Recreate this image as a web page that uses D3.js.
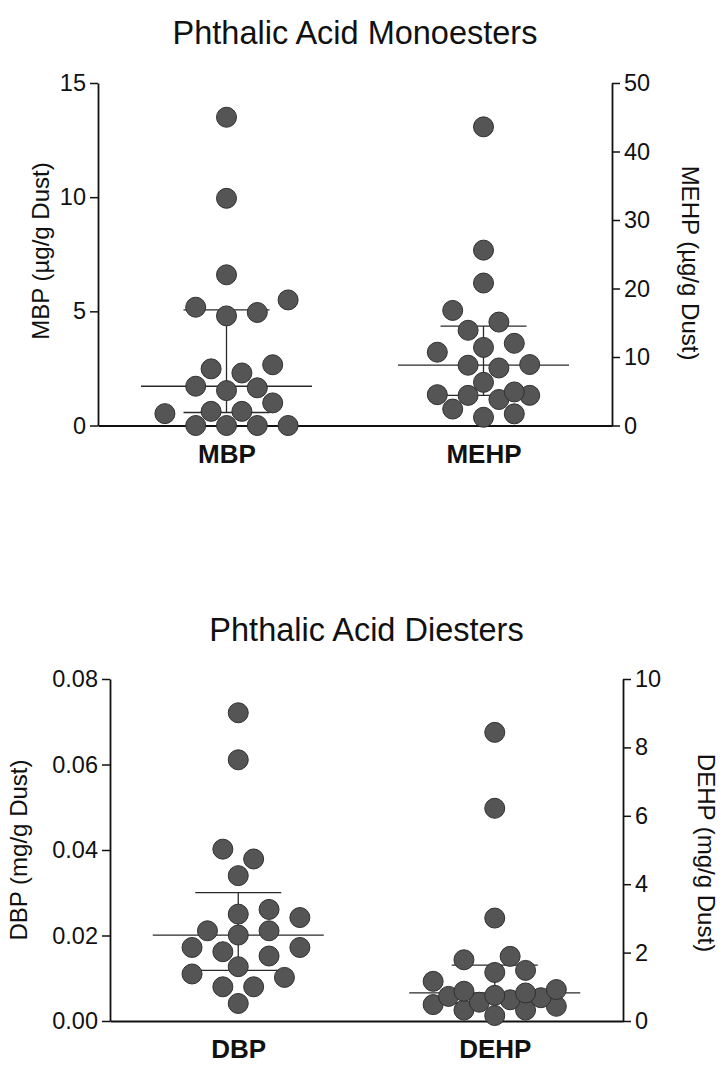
<!DOCTYPE html>
<html>
<head>
<meta charset="utf-8">
<script src="https://cdn.jsdelivr.net/npm/d3@7"></script>
<style>
  html, body { margin: 0; padding: 0; background: #fff; }
  svg { display: block; }
  text { font-family: "Liberation Sans", Arial, Helvetica, sans-serif; fill: #111; }
</style>
</head>
<body>
<svg id="chart" width="724" height="1069"></svg>
<script>
// Monoester concentrations (µg/g dust)
const monoCategories = ["MBP", "MEHP"];
const mbpValues  = [0, 0, 0, 0, 0.52, 0.62, 0.62, 0.99, 1.53, 1.65, 1.72, 2.30, 2.48, 2.66, 4.80, 4.95, 5.18, 5.50, 6.60, 9.95, 13.5];
const mehpValues = [1.2, 1.7, 2.4, 3.8, 4.4, 4.4, 4.5, 4.9, 6.3, 8.4, 8.8, 8.9, 10.7, 11.4, 12.0, 13.9, 15.1, 16.8, 20.8, 25.6, 43.6];
const mbpTicks  = [0, 5, 10, 15];
const mehpTicks = [0, 10, 20, 30, 40, 50];

// Diester concentrations (mg/g dust)
const diCategories = ["DBP", "DEHP"];
const dbpValues  = [0.0041, 0.0080, 0.0080, 0.0102, 0.0110, 0.0127, 0.0152, 0.0162, 0.0172, 0.0172, 0.0201, 0.0211, 0.0211, 0.0242, 0.0250, 0.0261, 0.0340, 0.0379, 0.0402, 0.0611, 0.0721];
const dehpValues = [0.16, 0.32, 0.32, 0.43, 0.48, 0.55, 0.62, 0.68, 0.72, 0.75, 0.82, 0.87, 0.92, 1.16, 1.42, 1.48, 1.79, 1.89, 3.01, 6.22, 8.44];
const dbpTicks  = [0, 0.02, 0.04, 0.06, 0.08];
const dehpTicks = [0, 2, 4, 6, 8, 10];

const svg = d3.select("#chart");

const DOT_R = 10;
const SLOT = 15.4;       // horizontal slot step of the scatter
const MIN_GAP = 20.5;    // centre distance that counts as no overlap
const MEDIAN_HALF = 85.5;
const QUART_HALF = 43;

// Quartile with the (n+1)p rule
function quant(sorted, p) {
  const n = sorted.length;
  const pos = p * (n + 1);
  const lo = Math.floor(pos);
  const f = pos - lo;
  if (lo < 1) return sorted[0];
  if (lo >= n) return sorted[n - 1];
  return sorted[lo - 1] + f * (sorted[lo] - sorted[lo - 1]);
}

// Column scatter: each value keeps its y, x goes to the nearest free slot
function swarm(values, y, cx) {
  const order = [0, 1, -1, 2, -2, 3, -3, 4, -4];
  const placed = [];
  values.forEach(v => {
    const py = y(v);
    let chosen = null, bestX = null, bestD = -Infinity;
    for (const k of order) {
      const px = cx + k * SLOT;
      let m = Infinity;
      for (const p of placed) m = Math.min(m, Math.hypot(p.x - px, p.y - py));
      if (m >= MIN_GAP) { chosen = px; break; }
      if (m > bestD) { bestD = m; bestX = px; }
    }
    placed.push({ x: chosen !== null ? chosen : bestX, y: py, v });
  });
  return placed;
}

function drawGroup(g, values, y, cx) {
  const s = values.slice().sort(d3.ascending);
  const med = quant(s, 0.5), q1 = quant(s, 0.25), q3 = quant(s, 0.75);
  const lines = g.append("g").attr("stroke", "#2a2a2a").attr("stroke-width", 1.3);
  lines.append("line").attr("x1", cx - MEDIAN_HALF).attr("x2", cx + MEDIAN_HALF).attr("y1", y(med)).attr("y2", y(med));
  lines.append("line").attr("x1", cx - QUART_HALF).attr("x2", cx + QUART_HALF).attr("y1", y(q1)).attr("y2", y(q1));
  lines.append("line").attr("x1", cx - QUART_HALF).attr("x2", cx + QUART_HALF).attr("y1", y(q3)).attr("y2", y(q3));
  lines.append("line").attr("x1", cx).attr("x2", cx).attr("y1", y(q1)).attr("y2", y(q3));

  g.append("g").selectAll("circle")
    .data(swarm(values, y, cx))
    .join("circle")
    .attr("cx", d => d.x)
    .attr("cy", d => d.y)
    .attr("r", DOT_R)
    .attr("fill", "#555")
    .attr("stroke", "#303030")
    .attr("stroke-width", 1);
}

function panel(opts) {
  const { title, titleY, cats, left, right, bottom, yL, yR,
          ticksL, ticksR, fmtL, fmtR, labelL, labelR, labelLPos, labelRPos,
          valsA, valsB } = opts;
  const g = svg.append("g");

  g.append("text")
    .attr("x", (left + right) / 2).attr("y", titleY)
    .attr("text-anchor", "middle")
    .attr("font-size", 32.5)
    .text(title);

  const x = d3.scalePoint().domain(cats).range([left, right]).padding(0.5);

  const axL = g.append("g").attr("transform", `translate(${left},0)`)
    .call(d3.axisLeft(yL).tickValues(ticksL).tickFormat(fmtL).tickSize(8).tickSizeOuter(0).tickPadding(4));
  const axR = g.append("g").attr("transform", `translate(${right},0)`)
    .call(d3.axisRight(yR).tickValues(ticksR).tickFormat(fmtR).tickSize(8).tickSizeOuter(0).tickPadding(4));
  const axB = g.append("g").attr("transform", `translate(0,${bottom})`)
    .call(d3.axisBottom(x).tickSize(0).tickSizeOuter(0).tickPadding(19));

  [axL, axR, axB].forEach(a => {
    a.selectAll("path.domain").attr("stroke", "#111").attr("stroke-width", 1.8);
    a.selectAll(".tick line").attr("stroke", "#111").attr("stroke-width", 1.5);
    a.selectAll("text").attr("font-family", null).attr("fill", "#111");
  });
  axL.selectAll(".tick text").attr("font-size", 23.5);
  axR.selectAll(".tick text").attr("font-size", 23.5);
  axB.selectAll(".tick text").attr("font-size", 26).attr("font-weight", "bold").attr("dy", "0.71em");

  g.append("text")
    .attr("transform", `translate(${labelLPos[0]},${labelLPos[1]}) rotate(-90)`)
    .attr("text-anchor", "middle").attr("dominant-baseline", "central")
    .attr("font-size", 24).text(labelL);
  g.append("text")
    .attr("transform", `translate(${labelRPos[0]},${labelRPos[1]}) rotate(90)`)
    .attr("text-anchor", "middle").attr("dominant-baseline", "central")
    .attr("font-size", 24).text(labelR);

  drawGroup(g, valsA, yL, x(cats[0]));
  drawGroup(g, valsB, yR, x(cats[1]));
}

// Upper panel: monoesters
panel({
  title: "Phthalic Acid Monoesters", titleY: 44,
  cats: monoCategories, left: 98, right: 612, bottom: 425.5,
  yL: d3.scaleLinear().domain([0, 15]).range([425.5, 83]),
  yR: d3.scaleLinear().domain([0, 50]).range([425.5, 83]),
  ticksL: mbpTicks, ticksR: mehpTicks,
  fmtL: d3.format("d"), fmtR: d3.format("d"),
  labelL: "MBP (µg/g Dust)", labelR: "MEHP (µg/g Dust)",
  labelLPos: [40, 251], labelRPos: [690, 263],
  valsA: mbpValues, valsB: mehpValues
});

// Lower panel: diesters
panel({
  title: "Phthalic Acid Diesters", titleY: 641,
  cats: diCategories, left: 110, right: 623, bottom: 1021,
  yL: d3.scaleLinear().domain([0, 0.08]).range([1021, 679]),
  yR: d3.scaleLinear().domain([0, 10]).range([1021, 679]),
  ticksL: dbpTicks, ticksR: dehpTicks,
  fmtL: d3.format(".2f"), fmtR: d3.format("d"),
  labelL: "DBP (mg/g Dust)", labelR: "DEHP (mg/g Dust)",
  labelLPos: [18, 850], labelRPos: [706, 853],
  valsA: dbpValues, valsB: dehpValues
});
</script>
</body>
</html>
